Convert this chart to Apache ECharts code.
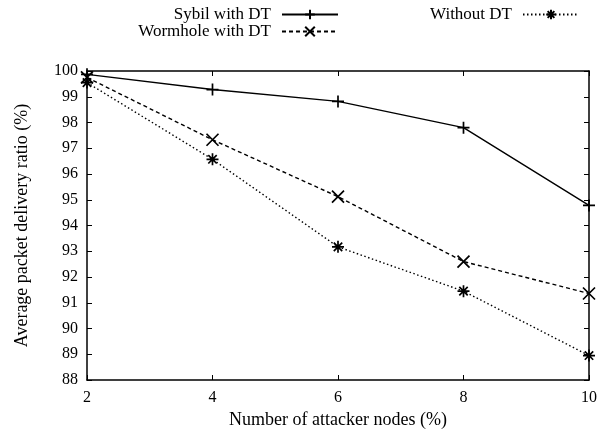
<!DOCTYPE html>
<html>
<head>
<meta charset="utf-8">
<script src="https://cdn.jsdelivr.net/npm/echarts@6/dist/echarts.min.js"></script>
<style>
html, body { margin: 0; padding: 0; background: #fff; }
#main { width: 601px; height: 438px; }
</style>
</head>
<body>
<div id="main"></div>
<script>
var attackers = [2, 4, 6, 8, 10];
var sybilDT = [99.87, 99.28, 98.82, 97.8, 94.78];
var wormholeDT = [99.75, 97.33, 95.12, 92.6, 91.36];
var withoutDT = [99.55, 96.57, 93.17, 91.45, 88.95];
var yTicks = [88, 100, 1];

var serif = 'Liberation Serif';
var plusPath = 'path://M5 0 L5 10 M0 5 L10 5';
var crossPath = 'path://M0 0 L10 10 M0 10 L10 0';
var starPath = 'path://M5 0 L5 10 M0 5 L10 5 M1.5 1.5 L8.5 8.5 M1.5 8.5 L8.5 1.5';

function pairs(ys) {
	var out = [];
	for (var i = 0; i < attackers.length; i++) out.push([attackers[i], ys[i]]);
	return out;
}

function mkSeries(name, ys, symbol, lineType) {
	return {
		name: name,
		type: 'line',
		data: pairs(ys),
		symbol: symbol,
		symbolSize: 12,
		showAllSymbol: true,
		lineStyle: { color: '#000', width: 1.4, type: lineType },
		itemStyle: { color: 'rgba(0,0,0,0)', borderColor: '#000', borderWidth: 1.7 },
		emphasis: { disabled: true },
		animation: false
	};
}

function mkLegend(name, right, top) {
	return {
		data: [name],
		right: right,
		top: top,
		align: 'right',
		orient: 'horizontal',
		itemWidth: 56,
		itemHeight: 12,
		padding: 0,
		textStyle: { fontFamily: serif, fontSize: 17, color: '#000', padding: [0, 6, 0, 0] },
		selectedMode: false
	};
}

var chart = echarts.init(document.getElementById('main'));
var axisLine = { show: true, lineStyle: { color: '#000', width: 1.5 } };
var tick = { show: true, inside: true, length: 5, lineStyle: { color: '#000', width: 1 } };

var option = {
	backgroundColor: '#fff',
	animation: false,
	legend: [
		mkLegend('Sybil with DT', 262, 6),
		mkLegend('Wormhole with DT', 262, 23),
		mkLegend('Without DT', 21, 6)
	],
	grid: { left: 87, right: 12, top: 71, bottom: 58 },
	xAxis: [{
		type: 'value', min: 2, max: 10, interval: 2, position: 'bottom',
		name: 'Number of attacker nodes (%)', nameLocation: 'middle', nameGap: 26,
		nameTextStyle: { fontFamily: serif, fontSize: 18, color: '#000' },
		axisLine: axisLine, axisTick: tick, splitLine: { show: false },
		axisLabel: { fontFamily: serif, fontSize: 16, color: '#000', margin: 10 }
	}, {
		type: 'value', min: 2, max: 10, interval: 2, position: 'top',
		axisLine: axisLine, axisTick: tick, splitLine: { show: false },
		axisLabel: { show: false }
	}],
	yAxis: [{
		type: 'value', min: yTicks[0], max: yTicks[1], interval: yTicks[2], position: 'left',
		name: 'Average packet delivery ratio (%)', nameLocation: 'middle', nameGap: 56,
		nameTextStyle: { fontFamily: serif, fontSize: 18, color: '#000' },
		axisLine: axisLine, axisTick: tick, splitLine: { show: false },
		axisLabel: { fontFamily: serif, fontSize: 16, color: '#000', margin: 9 }
	}, {
		type: 'value', min: yTicks[0], max: yTicks[1], interval: yTicks[2], position: 'right',
		axisLine: axisLine, axisTick: tick, splitLine: { show: false },
		axisLabel: { show: false }
	}],
	series: [
		mkSeries('Sybil with DT', sybilDT, plusPath, 'solid'),
		mkSeries('Wormhole with DT', wormholeDT, crossPath, [4, 3]),
		mkSeries('Without DT', withoutDT, starPath, [1.5, 2.5])
	]
};
chart.setOption(option);
</script>
</body>
</html>
